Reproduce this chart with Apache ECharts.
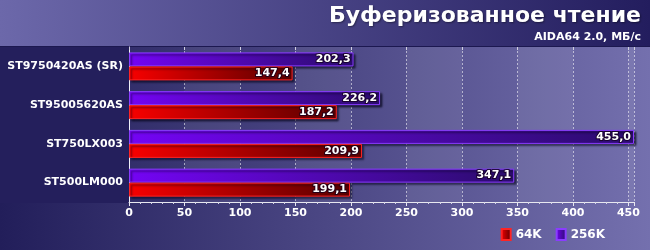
<!DOCTYPE html>
<html><head><meta charset="utf-8">
<script src="https://cdn.jsdelivr.net/npm/echarts@6/dist/echarts.min.js"></script>
<style>html,body{margin:0;padding:0;background:#2a265f}#c{width:650px;height:250px}</style>
</head><body><div id="c"></div>
<script>
const categories = ['ST9750420AS (SR)', 'ST95005620AS', 'ST750LX003', 'ST500LM000'];
const values64K = [147.4, 187.2, 209.9, 199.1];
const values256K = [202.3, 226.2, 455.0, 347.1];
const seriesNames = ['64K', '256K'];
const titleText = 'Буферизованное чтение';
const subtitleText = 'AIDA64 2.0, МБ/с';

const FONT = 'DejaVu Sans';
const fmt = v => v.toFixed(1).replace('.', ',');
const chart = echarts.init(document.getElementById('c'), null, {renderer: 'canvas'});
const G = echarts.graphic.LinearGradient;

function barSeries(name, data, c1, c2, border) {
  return {
    name, type: 'bar', data, barWidth: 14, barGap: '0%',
    itemStyle: {
      color: new G(0, 0, 1, 0, [{offset: 0, color: c1}, {offset: 1, color: c2}]),
      borderColor: border, borderWidth: 1,
      shadowColor: 'rgba(0,0,20,0.6)', shadowBlur: 2, shadowOffsetX: 2, shadowOffsetY: 2
    },
    label: {
      show: true, position: 'insideRight', distance: 3,
      formatter: p => fmt(p.value),
      color: '#fff', fontFamily: FONT, fontWeight: 'bold', fontSize: 11,
      textBorderColor: 'rgba(20,0,30,0.8)', textBorderWidth: 2
    }
  };
}

chart.setOption({
  animation: false,
  graphic: [
    {type: 'rect', z: -10, silent: true, shape: {x: 0, y: 47, width: 650, height: 203},
     style: {fill: new G(0, 0, 1, 0, [{offset: 0, color: '#221e5a'}, {offset: 1, color: '#7470ae'}])}},
    {type: 'rect', z: -10, silent: true, shape: {x: 0, y: 0, width: 650, height: 46},
     style: {fill: new G(0, 0, 1, 0, [{offset: 0, color: '#6c68aa'}, {offset: 1, color: '#231d5e'}])}},
    {type: 'rect', z: -9, silent: true, shape: {x: 0, y: 46, width: 650, height: 1},
     style: {fill: '#1c1850'}},
    {type: 'rect', z: -9, silent: true, shape: {x: 0, y: 47, width: 129, height: 156},
     style: {fill: '#241f5c'}},
    {type: 'text', right: 9, top: 5, style: {text: titleText, fill: '#fff', font: 'bold 22px "DejaVu Sans"',
      textShadowColor: 'rgba(0,0,0,0.4)', textShadowBlur: 2, textShadowOffsetX: 1, textShadowOffsetY: 1}},
    {type: 'text', right: 9, top: 32, style: {text: subtitleText, fill: '#fff', font: 'bold 11px "DejaVu Sans"'}}
  ],
  grid: {left: 129, right: 16, top: 47, bottom: 48, containLabel: false},
  legend: {
    data: seriesNames, right: 40, top: 223, icon: 'rect', itemWidth: 9, itemHeight: 11, itemGap: 14,
    textStyle: {color: '#fff', fontFamily: FONT, fontWeight: 'bold', fontSize: 12}
  },
  xAxis: [{
    type: 'value', min: 0, max: 455, interval: 50,
    axisLine: {show: true, lineStyle: {color: '#e8e8f0', width: 1}},
    axisTick: {show: true, length: 4, lineStyle: {color: '#e8e8f0'}},
    minorTick: {show: true, splitNumber: 5, length: 2, lineStyle: {color: '#d8d8e8'}},
    axisLabel: {color: '#fff', fontFamily: FONT, fontWeight: 'bold', fontSize: 11, margin: 6,
      formatter: v => (v % 50 === 0 ? String(v) : '')},
    splitLine: {show: true, lineStyle: {color: 'rgba(255,255,255,0.55)', type: [2, 2], width: 1}},
    splitArea: {show: true, areaStyle: {color: ['rgba(0,0,0,0)', 'rgba(255,255,255,0.07)']}}
  }, {
    type: 'value', min: 0, max: 455, interval: 50, position: 'top',
    axisLine: {show: false}, axisTick: {show: true, inside: true, length: 3, lineStyle: {color: '#d0d0e0'}},
    axisLabel: {show: false}, splitLine: {show: false}
  }],
  yAxis: {
    type: 'category', data: categories, inverse: true,
    axisLine: {show: true, lineStyle: {color: '#f0f0f8', width: 1}},
    axisTick: {show: false},
    axisLabel: {color: '#fff', fontFamily: FONT, fontWeight: 'bold', fontSize: 11, margin: 6}
  },
  series: [
    barSeries(seriesNames[1], values256K, '#7404f4', '#2a0c6c', '#8a3cff'),
    barSeries(seriesNames[0], values64K, '#f80000', '#560000', '#ff2424')
  ]
});
</script></body></html>
